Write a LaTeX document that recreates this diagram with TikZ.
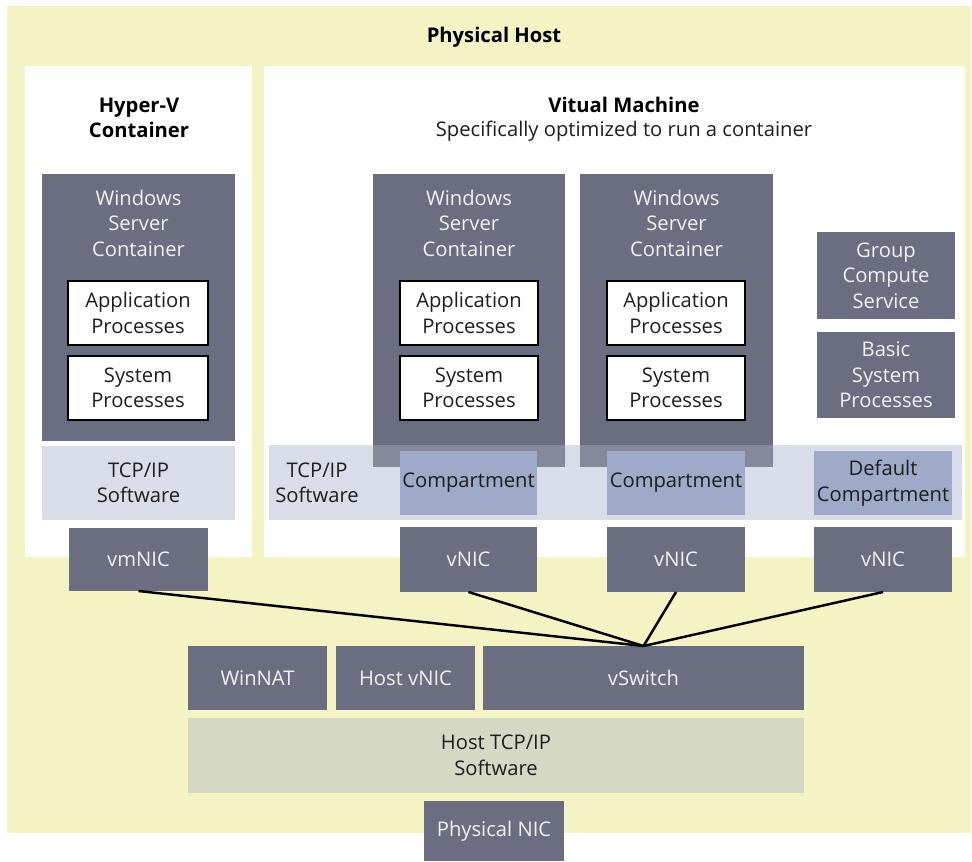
\documentclass[tikz,border=0pt]{standalone}
\usepackage{fontspec}
\setmainfont{Open Sans}
\usetikzlibrary{positioning}

\definecolor{hostyellow}{RGB}{243,243,196}
\definecolor{slate}{RGB}{107,110,128}
\definecolor{softwhite}{RGB}{240,240,242}
\definecolor{tcpfill}{RGB}{217,220,233}
\definecolor{compfill}{RGB}{159,169,200}
\definecolor{hostgreen}{RGB}{212,216,197}
\definecolor{inktext}{RGB}{30,30,30}

\begin{document}
\begin{tikzpicture}[
    x=0.02cm, y=-0.02cm,
    every node/.style={font=\fontsize{11.5}{14.5}\selectfont, align=center, inner sep=0pt, outer sep=0pt},
    area/.style={rectangle, fill=#1},
    dark/.style={rectangle, fill=slate, text=softwhite},
    proc/.style={rectangle, fill=white, draw=black, line width=1.3pt, text=inktext},
    soft/.style={rectangle, fill=#1, text=inktext},
    title/.style={font=\fontsize{11.5}{14.5}\selectfont\bfseries, text=black},
    wire/.style={draw=black, line width=1.4pt},
]
\useasboundingbox (0,0) rectangle (972,861);

% physical host and the two partitions
\node[area=hostyellow, minimum width=19.28cm, minimum height=16.54cm] (host) at (489,419.5) {};
\node[title] (hosttitle) at (494,37) {Physical Host};

\node[area=white, minimum width=4.54cm, minimum height=9.82cm] (hyperv) at (138.5,311.5) {};
\node[area=white, minimum width=14.02cm, minimum height=9.82cm] (vm) at (614.5,311.5) {};

\node[title] (hypervtitle) at (139,118) {Hyper-V\\Container};
\node[title] (vmtitle) at (624,105) {Vitual Machine};
\node[text=inktext] (vmsub) at (624,131) {Specifically optimized to run a container};

% Hyper-V container
\node[dark, minimum width=3.86cm, minimum height=5.34cm] (wsc0) at (138.5,307.5) {};
\node[text=softwhite] (wsc0label) at (138.5,223) {Windows\\Server\\Container};
\node[proc, minimum width=2.80cm, minimum height=1.28cm] (app0) at (138,313) {Application\\Processes};
\node[proc, minimum width=2.80cm, minimum height=1.28cm] (sys0) at (138,388) {System\\Processes};
\node[soft=tcpfill, minimum width=3.86cm, minimum height=1.48cm] (tcp0) at (138.5,483) {TCP/IP\\Software};
\node[dark, minimum width=2.78cm, minimum height=1.26cm] (vmnic) at (138.5,559.5) {vmNIC};

% virtual machine
\node[soft=tcpfill, minimum width=13.86cm, minimum height=1.50cm] (band) at (615.5,482.5) {};
\node[dark, minimum width=3.84cm, minimum height=5.86cm] (wsc1) at (469,320.5) {};
\node[dark, minimum width=3.86cm, minimum height=5.86cm] (wsc2) at (676.5,320.5) {};
\fill[tcpfill, opacity=0.25] (band.north west) rectangle (band.south east);
\node[text=inktext] (bandlabel) at (317,483) {TCP/IP\\Software};

\node[text=softwhite] (wsc1label) at (469,223) {Windows\\Server\\Container};
\node[text=softwhite] (wsc2label) at (676.5,223) {Windows\\Server\\Container};
\node[proc, minimum width=2.76cm, minimum height=1.28cm] (app1) at (469,313) {Application\\Processes};
\node[proc, minimum width=2.76cm, minimum height=1.28cm] (sys1) at (469,388) {System\\Processes};
\node[proc, minimum width=2.76cm, minimum height=1.28cm] (app2) at (676,313) {Application\\Processes};
\node[proc, minimum width=2.76cm, minimum height=1.28cm] (sys2) at (676,388) {System\\Processes};

\node[dark, minimum width=2.76cm, minimum height=1.74cm] (gcs) at (886,275.5) {Group\\Compute\\Service};
\node[dark, minimum width=2.76cm, minimum height=1.72cm] (bsp) at (886,375) {Basic\\System\\Processes};

\node[soft=compfill, minimum width=2.74cm, minimum height=1.28cm] (comp1) at (468.5,483) {Compartment};
\node[soft=compfill, minimum width=2.76cm, minimum height=1.28cm] (comp2) at (676,483) {Compartment};
\node[soft=compfill, minimum width=2.76cm, minimum height=1.28cm] (comp3) at (883,483) {Default\\Compartment};

\node[dark, minimum width=2.74cm, minimum height=1.30cm] (vnic1) at (468.5,559.5) {vNIC};
\node[dark, minimum width=2.76cm, minimum height=1.30cm] (vnic2) at (676,559.5) {vNIC};
\node[dark, minimum width=2.76cm, minimum height=1.30cm] (vnic3) at (883,559.5) {vNIC};

% host side
\node[dark, minimum width=2.78cm, minimum height=1.28cm] (winnat) at (257.5,678) {WinNAT};
\node[dark, minimum width=2.78cm, minimum height=1.28cm] (hostvnic) at (405.5,678) {Host vNIC};
\node[dark, minimum width=6.42cm, minimum height=1.28cm] (vswitch) at (643.5,678) {vSwitch};
\node[soft=hostgreen, minimum width=12.32cm, minimum height=1.50cm] (hosttcp) at (496,755.5) {Host TCP/IP\\Software};
\node[dark, minimum width=2.80cm, minimum height=1.20cm] (pnic) at (494,831) {Physical NIC};

% links to the switch
\foreach \nic in {vmnic, vnic1, vnic2, vnic3}
    \draw[wire] (\nic.south) -- (vswitch.north);

\end{tikzpicture}
\end{document}
